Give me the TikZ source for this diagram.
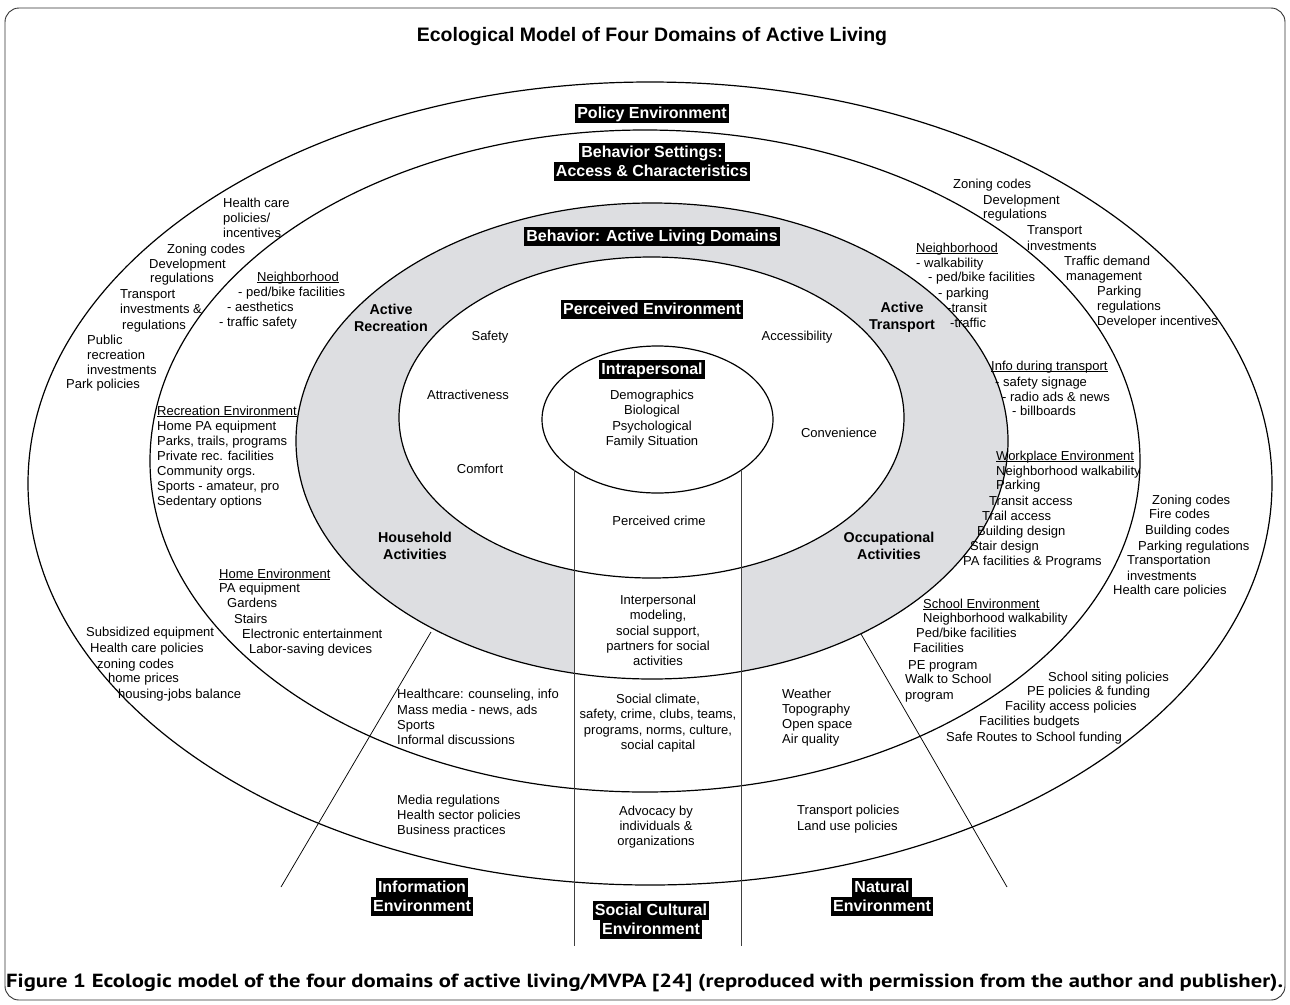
\documentclass[tikz,border=0pt]{standalone}
\usepackage{fontspec}
\setmainfont{Liberation Sans}
\newfontfamily\capfont{PT Sans}
\usepackage{graphicx}
\definecolor{ringgray}{RGB}{221,222,225}
\newsavebox\ulbox
\newcommand\myul[1]{\sbox\ulbox{#1}\rlap{\rule[-1.8pt]{\wd\ulbox}{0.7pt}}\usebox\ulbox}
\newcommand\blk[1]{{\setlength\fboxsep{0pt}\colorbox{black}{\hspace{2pt}\rule[-4.4pt]{0pt}{19pt}\textcolor{white}{#1}\hspace{2pt}}}}
\tikzset{
  txt/.style={font=\fontsize{13}{15.3}\selectfont, inner sep=0pt, text height=9.4pt, text depth=2.7pt},
  lt/.style={txt, anchor=west},
  cblock/.style={font=\fontsize{13}{15.3}\selectfont, inner sep=0pt, align=center},
  dom/.style={font=\fontsize{14.3}{17}\selectfont\bfseries, align=center, inner sep=0pt},
  lbl/.style={font=\fontsize{16}{19}\selectfont\bfseries, align=center, inner sep=0pt},
  ring/.style={line width=1.2pt},
  sector/.style={line width=0.75pt},
  column/.style={line width=1pt, black!75},
}
\begin{document}
\begin{tikzpicture}[x=1pt,y=-1pt]
\useasboundingbox (0,0) rectangle (1290,1004);
% frame
\draw[line width=0.9pt, rounded corners=14pt, black!80] (5,8) rectangle (1285,1000);
% fills
\fill[ringgray] (652,441) ellipse [x radius=356, y radius=238];
\fill[white] (651.5,417.5) ellipse [x radius=252.5, y radius=160.5];
\fill[white] (574,470) rectangle (741,690);
% outlines
\draw[ring] (650,483.5) ellipse [x radius=622, y radius=401.5];
\draw[ring] (645,461) ellipse [x radius=495, y radius=331];
\draw[ring] (652,441) ellipse [x radius=356, y radius=238];
\draw[ring] (651.5,417.5) ellipse [x radius=252.5, y radius=160.5];
\draw[ring, fill=white] (657.5,419.5) ellipse [x radius=115.5, y radius=73.5];
% column and sector lines
\coordinate (cl1) at (574,470); \coordinate (cl2) at (574,946);
\coordinate (cr1) at (741,470); \coordinate (cr2) at (741,946);
\coordinate (dl1) at (431,632); \coordinate (dl2) at (281,887);
\coordinate (dr1) at (861,634); \coordinate (dr2) at (1007,887);
\draw[column] (cl1) -- (cl2);
\draw[column] (cr1) -- (cr2);
\draw[sector] (dl1) -- (dl2);
\draw[sector] (dr1) -- (dr2);
% title
\node[name=title, font=\fontsize{19.5}{22}\selectfont\bfseries, inner sep=0pt] at (652,36) {Ecological Model of Four Domains of Active Living};
% black labels
\node[lbl, name=policy] at (652,113) {\blk{Policy Environment}};
\node[lbl, name=settings] at (652,162) {\blk{Behavior Settings:}\\\blk{Access \& Characteristics}};
\node[lbl, name=behavior] at (652,236) {\blk{Behavior: Active Living Domains}};
\node[lbl, name=perceived] at (652,309) {\blk{Perceived Environment}};
\node[lbl, name=intra] at (652,369) {\blk{Intrapersonal}};
\node[lbl, name=info] at (422,897) {\blk{Information}\\\blk{Environment}};
\node[lbl, name=social] at (651,920) {\blk{Social Cultural}\\\blk{Environment}};
\node[lbl, name=natural] at (882,897) {\blk{Natural}\\\blk{Environment}};
% domains
\node[dom, name=recr] at (391,318) {Active\\Recreation};
\node[dom, name=transp] at (902,317) {Active\\Transport};
\node[dom, name=house] at (415,546) {Household\\Activities};
\node[dom, name=occup] at (889,546) {Occupational\\Activities};
% perceived environment items
\node[txt, name=safety] at (490,337) {Safety};
\node[txt, name=access] at (797,337) {Accessibility};
\node[txt, name=attract] at (468,396) {Attractiveness};
\node[txt, name=conven] at (839,434) {Convenience};
\node[txt, name=comfort] at (480,470) {Comfort};
\node[txt, name=pcrime] at (659,522) {Perceived crime};
% centered blocks
\node[cblock, name=intratxt] at (652,419) {Demographics\\Biological\\Psychological\\Family Situation};
\node[cblock, name=inter] at (658,630.5) {Interpersonal\\modeling,\\social support,\\partners for social\\activities};
\node[cblock, name=climate] at (658,723) {Social climate,\\safety, crime, clubs, teams,\\programs, norms, culture,\\social capital};
\node[cblock, name=advocacy] at (656,827) {Advocacy by\\individuals \&\\organizations};
% left-aligned lines
\foreach \x/\y/\t [count=\i] in {
  223/204/{Health care}, 223/219/{policies/}, 223/234/{incentives},
  167/250/{Zoning codes}, 149/265/{Development}, 150/279/{regulations},
  120/295/{Transport}, 120/310/{investments \&}, 122/326/{regulations},
  87/341/{Public}, 87/356/{recreation}, 87/371/{investments}, 66/385/{Park policies}}
  \node[lt, name=lou\i] at (\x,\y) {\t};
\foreach \x/\y/\t [count=\i] in {
  257/278/{\myul{Neighborhood}}, 238/293/{- ped/bike facilities},
  227/308/{- aesthetics}, 219/323/{- traffic safety}}
  \node[lt, name=lnb\i] at (\x,\y) {\t};
\foreach \x/\y/\t [count=\i] in {
  953/185/{Zoning codes}, 983/201/{Development}, 983/215/{regulations},
  1027/231/{Transport}, 1027/247/{investments}, 1064/262/{Traffic demand},
  1066/277/{management}, 1097/292/{Parking}, 1097/307/{regulations},
  1097/322/{Developer incentives}}
  \node[lt, name=rou\i] at (\x,\y) {\t};
\foreach \x/\y/\t [count=\i] in {
  916/249/{\myul{Neighborhood}}, 916/264/{- walkability}, 928/278/{- ped/bike facilities},
  938/294/{- parking}, 947/309/{-transit}, 950/324/{-traffic}}
  \node[lt, name=rnb\i] at (\x,\y) {\t};
\foreach \x/\y/\t [count=\i] in {
  991/367/{\myul{Info during transport}}, 995/383/{- safety signage},
  1002/398/{- radio ads \& news}, 1012/412/{- billboards}}
  \node[lt, name=idt\i] at (\x,\y) {\t};
\foreach \x/\y/\t [count=\i] in {
  996/457/{\myul{Workplace Environment}}, 996/472/{Neighborhood walkability},
  996/486/{Parking}, 989/502/{Transit access}, 982/517/{Trail access},
  977/532/{Building design}, 970/547/{Stair design}, 963/562/{PA facilities \& Programs}}
  \node[lt, name=wpe\i] at (\x,\y) {\t};
\foreach \x/\y/\t [count=\i] in {
  1152/501/{Zoning codes}, 1149/515/{Fire codes}, 1145/531/{Building codes},
  1138/547/{Parking regulations}, 1127/561/{Transportation}, 1127/577/{investments},
  1113/591/{Health care policies}}
  \node[lt, name=rol\i] at (\x,\y) {\t};
\foreach \x/\y/\t [count=\i] in {
  157/412/{\myul{Recreation Environment}}, 157/427/{Home PA equipment},
  157/442/{Parks, trails, programs}, 157/457/{Private rec. facilities},
  157/472/{Community orgs.}, 157/487/{Sports - amateur, pro}, 157/502/{Sedentary options}}
  \node[lt, name=rec\i] at (\x,\y) {\t};
\foreach \x/\y/\t [count=\i] in {
  219/575/{\myul{Home Environment}}, 219/589/{PA equipment}, 227/604/{Gardens},
  234/620/{Stairs}, 242/635/{Electronic entertainment}, 249/650/{Labor-saving devices}}
  \node[lt, name=home\i] at (\x,\y) {\t};
\foreach \x/\y/\t [count=\i] in {
  86/633/{Subsidized equipment}, 90/649/{Health care policies}, 97/665/{zoning codes},
  108/679/{home prices}, 118/695/{housing-jobs balance}}
  \node[lt, name=lol\i] at (\x,\y) {\t};
\foreach \x/\y/\t [count=\i] in {
  923/605/{\myul{School Environment}}, 923/619/{Neighborhood walkability},
  916/634/{Ped/bike facilities}, 913/649/{Facilities}, 908/666/{PE program},
  905/680/{Walk to School}, 905/696/{program}}
  \node[lt, name=sch\i] at (\x,\y) {\t};
\foreach \x/\y/\t [count=\i] in {
  1048/678/{School siting policies}, 1027/692/{PE policies \& funding},
  1005/707/{Facility access policies}, 979/722/{Facilities budgets},
  946/738/{Safe Routes to School funding}}
  \node[lt, name=sop\i] at (\x,\y) {\t};
\foreach \x/\y/\t [count=\i] in {
  397/695/{Healthcare: counseling, info}, 397/711/{Mass media - news, ads},
  397/726/{Sports}, 397/741/{Informal discussions},
  397/801/{Media regulations}, 397/816/{Health sector policies}, 397/831/{Business practices}}
  \node[lt, name=inf\i] at (\x,\y) {\t};
\foreach \x/\y/\t [count=\i] in {
  782/695/{Weather}, 782/710/{Topography}, 782/725/{Open space}, 782/740/{Air quality},
  797/811/{Transport policies}, 797/827/{Land use policies}}
  \node[lt, name=nat\i] at (\x,\y) {\t};
% caption
\node[anchor=west, inner sep=0pt, name=caption] at (6,983) {\resizebox{1277pt}{\height}{\capfont\bfseries\fontsize{19}{21}\selectfont Figure 1 Ecologic model of the four domains of active living/MVPA [24] (reproduced with permission from the author and publisher).}};
\end{tikzpicture}
\end{document}
